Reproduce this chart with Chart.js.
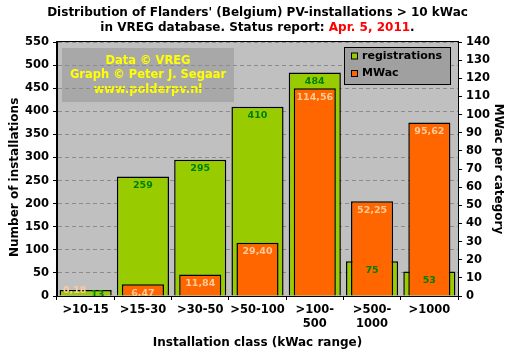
<!DOCTYPE html>
<html><head><meta charset="utf-8">
<script src="https://cdn.jsdelivr.net/npm/chart.js@4/dist/chart.umd.min.js"></script>
<style>html,body{margin:0;padding:0;background:#fff;overflow:hidden;}</style>
</head><body>
<canvas id="c" width="511" height="361"></canvas>
<script>
// ---- data ----
const categories = [['>10-15'], ['>15-30'], ['>30-50'], ['>50-100'], ['>100-', '500'], ['>500-', '1000'], ['>1000']];
const registrations = [13, 259, 295, 410, 484, 75, 53];
const mwac = [0.18, 6.47, 11.84, 29.40, 114.56, 52.25, 95.62];
const leftTickValues = [0, 50, 100, 150, 200, 250, 300, 350, 400, 450, 500, 550];
const rightTickValues = [0, 10, 20, 30, 40, 50, 60, 70, 80, 90, 100, 110, 120, 130, 140];
const titleLine1 = "Distribution of Flanders' (Belgium) PV-installations > 10 kWac";
const titleLine2a = "in VREG database. Status report: ";
const titleLine2b = "Apr. 5, 2011";
const titleLine2c = ".";
const watermark = ["Data \u00A9 VREG", "Graph \u00A9 Peter J. Segaar", "www.polderpv.nl"];
const seriesNames = ["registrations", "MWac"];

const FONT = '"DejaVu Sans", Verdana, sans-serif';
const GREEN = '#99CC00', ORANGE = '#FF6600';

const decorPlugin = {
  id: 'decor',
  beforeDraw(chart) {
    const {ctx, chartArea: a} = chart;
    ctx.save();
    ctx.fillStyle = '#fff';
    ctx.fillRect(0, 0, chart.width, chart.height);
    ctx.fillStyle = '#C0C0C0';
    ctx.fillRect(a.left, a.top, a.right - a.left, a.bottom - a.top);
    // watermark box
    ctx.fillStyle = '#A8A8A8';
    ctx.fillRect(a.left + 5, a.top + 6, 172, 54);
    ctx.fillStyle = '#FFFF00';
    ctx.font = 'bold 11.5px ' + FONT;
    ctx.textAlign = 'center'; ctx.textBaseline = 'middle';
    const cx = a.left + 91;
    watermark.forEach((t, i) => ctx.fillText(t, cx, a.top + 19 + i * 14.3));
    // title
    ctx.fillStyle = '#000';
    ctx.font = 'bold 12px ' + FONT;
    ctx.fillText(titleLine1, 257.5, 13);
    const w1 = ctx.measureText(titleLine2a).width, w2 = ctx.measureText(titleLine2b).width, w3 = ctx.measureText(titleLine2c).width;
    let x0 = 257.5 - (w1 + w2 + w3) / 2;
    ctx.textAlign = 'left';
    ctx.fillText(titleLine2a, x0, 28);
    ctx.fillStyle = '#FF0000';
    ctx.fillText(titleLine2b, x0 + w1, 28);
    ctx.fillStyle = '#000';
    ctx.fillText(titleLine2c, x0 + w1 + w2, 28);
    ctx.restore();
  },
  afterDatasetsDraw(chart) {
    const {ctx} = chart;
    ctx.save();
    ctx.font = 'bold 9.5px ' + FONT;
    ctx.textAlign = 'center'; ctx.textBaseline = 'middle';
    chart.data.datasets.forEach((ds, di) => {
      const meta = chart.getDatasetMeta(di);
      meta.data.forEach((el, i) => {
        let x = el.x, y = el.y + 9;
        if (i === 0) {
          if (di === 0) { x += 12; y = el.y + 5; } else { x -= 11; y = el.y - 5; }
        }
        const v = ds.data[i];
        const txt = di === 0 ? String(v) : v.toFixed(2).replace('.', ',');
        ctx.fillStyle = ds.labelColor;
        ctx.fillText(txt, x, y);
      });
    });
    ctx.restore();
  },
  afterDraw(chart) {
    const {ctx, chartArea: a} = chart;
    ctx.save();
    ctx.strokeStyle = '#000'; ctx.lineWidth = 1;
    ctx.strokeRect(Math.round(a.left) - 0.5, Math.round(a.top) - 0.5, Math.round(a.right - a.left) + 1, Math.round(a.bottom - a.top) + 1);
    // legend
    const lx = 344.5, ly = 47.5, lw = 106, lh = 37;
    ctx.fillStyle = '#A0A0A0';
    ctx.fillRect(lx, ly, lw, lh);
    ctx.strokeRect(lx, ly, lw, lh);
    const cols = [GREEN, ORANGE];
    ctx.font = 'bold 11px ' + FONT;
    ctx.textAlign = 'left'; ctx.textBaseline = 'middle';
    seriesNames.forEach((n, i) => {
      const yy = 56 + i * 17.5;
      ctx.fillStyle = cols[i];
      ctx.fillRect(351.5, yy - 3, 6, 6);
      ctx.strokeStyle = '#000';
      ctx.strokeRect(351.5, yy - 3, 6, 6);
      ctx.fillStyle = '#000';
      ctx.fillText(n, 362, yy);
    });
    ctx.restore();
  }
};

const tickFont = {family: FONT, size: 11.5, weight: 'bold'};
const titleFont = {family: FONT, size: 12, weight: 'bold'};

new Chart(document.getElementById('c'), {
  type: 'bar',
  data: {
    labels: categories,
    datasets: [
      {label: seriesNames[0], data: registrations, yAxisID: 'y', backgroundColor: GREEN, borderColor: '#000', borderWidth: 1.5, borderSkipped: 'bottom', inflateAmount: 0,
       barPercentage: 0.91, categoryPercentage: 1, order: 2, labelColor: '#008000'},
      {label: seriesNames[1], data: mwac, yAxisID: 'y2', backgroundColor: ORANGE, borderColor: '#000', borderWidth: 1.5, borderSkipped: 'bottom', inflateAmount: 0,
       barPercentage: 0.735, categoryPercentage: 1, order: 1, labelColor: '#FFCC99'}
    ]
  },
  options: {
    responsive: false, animation: false, devicePixelRatio: 1,
    layout: {padding: {top: 42, left: 0, right: 0, bottom: 0}},
    datasets: {bar: {grouped: false}},
    plugins: {legend: {display: false}, tooltip: {enabled: false}, title: {display: false}},
    scales: {
      x: {
        offset: true,
        grid: {offset: true, drawOnChartArea: false, tickLength: 4, tickColor: '#000', color: '#000'},
        border: {display: true, color: '#000'},
        ticks: {color: '#000', font: tickFont, padding: 3, maxRotation: 0, autoSkip: false},
        title: {display: true, text: 'Installation class (kWac range)', color: '#000', font: titleFont, padding: {top: 0, bottom: 11}},
        afterFit: s => { s.height = 65; }
      },
      y: {
        position: 'left', min: 0, max: 550,
        afterBuildTicks: s => { s.ticks = leftTickValues.map(v => ({value: v})); },
        grid: {color: '#8C8C8C', tickColor: '#000', tickLength: 4, tickBorderDash: []},
        border: {display: true, color: '#000', dash: [4, 3]},
        ticks: {color: '#000', font: tickFont, padding: 4},
        title: {display: true, text: 'Number of installations    ', color: '#000', font: titleFont, padding: {top: 8, bottom: 0}},
        afterFit: s => { s.width = 57; }
      },
      y2: {
        position: 'right', min: 0, max: 140,
        afterBuildTicks: s => { s.ticks = rightTickValues.map(v => ({value: v})); },
        grid: {drawOnChartArea: false, tickColor: '#000', tickLength: 4},
        border: {display: true, color: '#000'},
        ticks: {color: '#000', font: tickFont, padding: 4},
        title: {display: true, text: 'MWac per category', color: '#000', font: titleFont, padding: {top: 6, bottom: 0}},
        afterFit: s => { s.width = 53; }
      }
    }
  },
  plugins: [decorPlugin]
});
</script>
</body></html>
